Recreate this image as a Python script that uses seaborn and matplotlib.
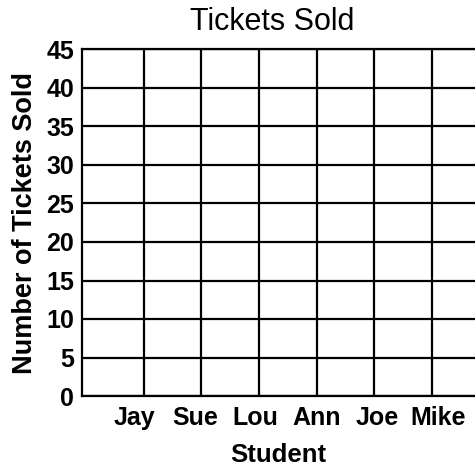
import matplotlib
matplotlib.use("Agg")
import matplotlib.pyplot as plt
from matplotlib.ticker import FixedLocator
import seaborn as sns
import numpy as np
import pandas as pd

# Blank worksheet chart: students with no tickets filled in yet
students = ["Jay", "Sue", "Lou", "Ann", "Joe", "Mike"]
tickets = [0, 0, 0, 0, 0, 0]
y_ticks = [0, 5, 10, 15, 20, 25, 30, 35, 40, 45]

df = pd.DataFrame({"Student": students, "Tickets": tickets})

sns.set_theme(style="white", rc={
    "text.color": "black",
    "axes.labelcolor": "black",
    "xtick.color": "black",
    "ytick.color": "black",
})
plt.rcParams["font.family"] = ["Liberation Sans", "DejaVu Sans"]

fig = plt.figure(figsize=(4.75, 4.67), dpi=100)
ax = fig.add_axes([82 / 475, 1 - 396 / 467, 1 - 82 / 475, (396 - 49.5) / 467])

sns.barplot(data=df, x="Student", y="Tickets", ax=ax, color="white", linewidth=0)

ax.set_ylim(0, 45)
ax.set_yticks(y_ticks)
ax.set_xlim(-0.854, 5.60)

# worksheet grid: columns are a bit narrower than the label spacing
col_lines = 0.156 + 0.9475 * np.arange(len(students) + 1)
ax.xaxis.set_minor_locator(FixedLocator(col_lines))
ax.grid(False)
ax.grid(axis="x", which="minor", color="black", lw=1.6)
ax.grid(axis="y", which="major", color="black", lw=1.6)
ax.set_axisbelow(False)

for side in ["left", "bottom", "top"]:
    ax.spines[side].set_color("black")
    ax.spines[side].set_linewidth(1.6)
ax.spines["right"].set_visible(False)

ax.tick_params(axis="both", which="both", length=0)
ax.tick_params(axis="y", pad=5.5, labelsize=18)
ax.tick_params(axis="x", pad=7.5, labelsize=18)
for lbl in ax.get_xticklabels() + ax.get_yticklabels():
    lbl.set_fontweight("bold")

ax.set_xlabel("Student", fontsize=18.5, fontweight="bold", labelpad=9)
ax.set_ylabel("Number of Tickets Sold", fontsize=19.5, fontweight="bold", labelpad=6)

fig.text(272 / 475, 1 - 22 / 467, "Tickets Sold", fontsize=22, ha="center", va="center")

fig.savefig("out.png", dpi=100)
